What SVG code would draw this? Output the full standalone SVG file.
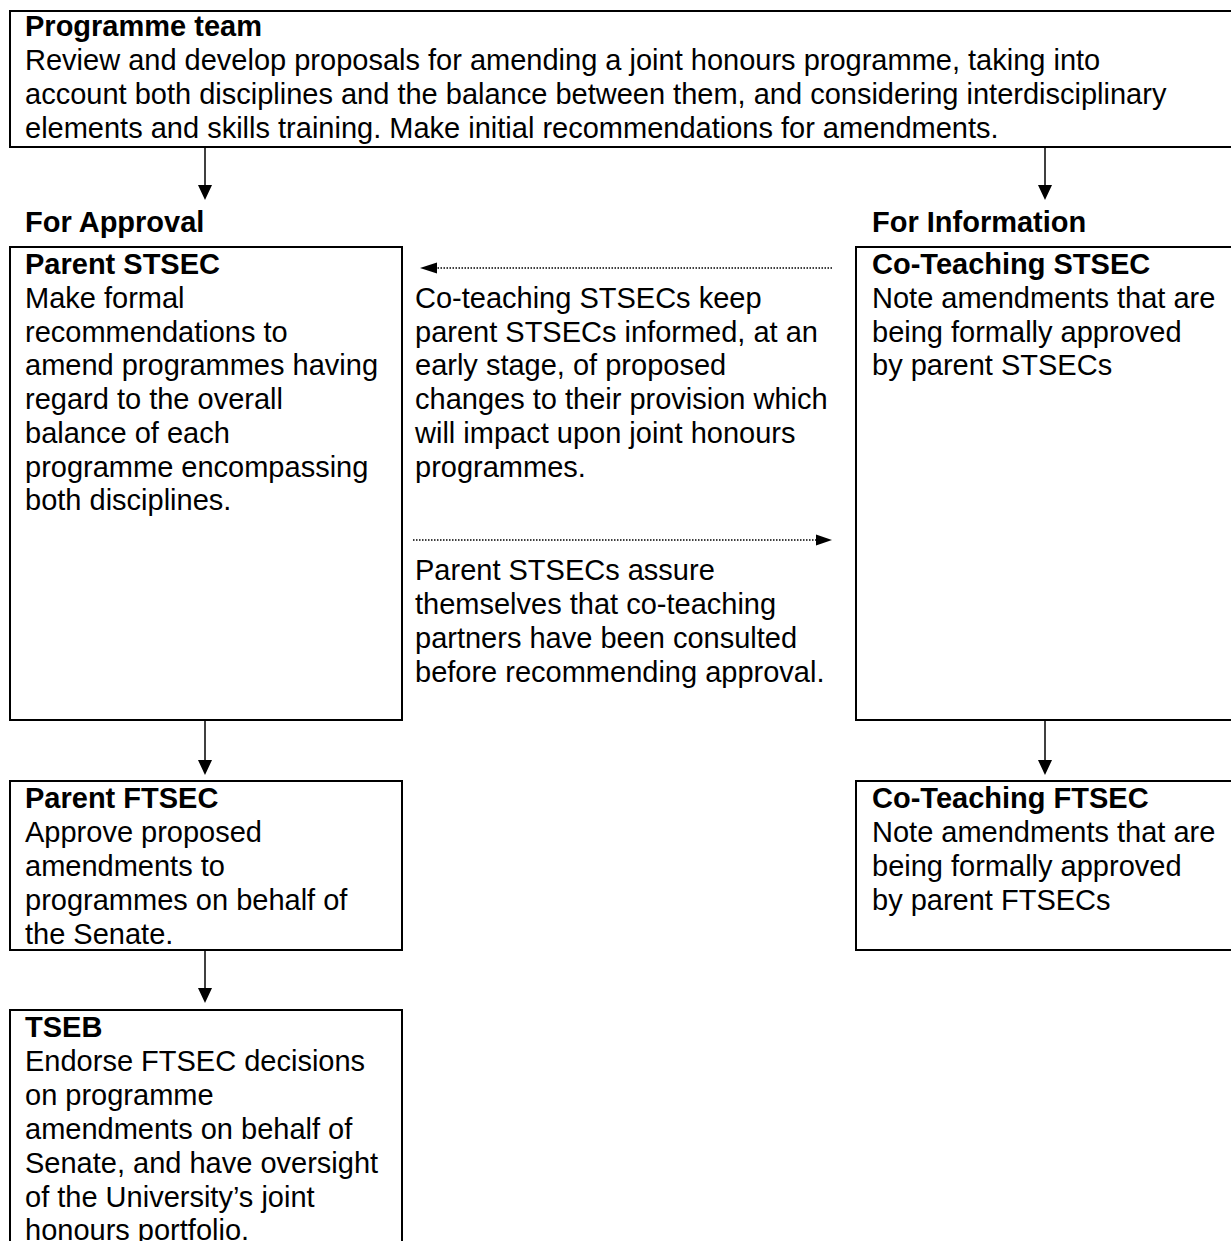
<svg xmlns="http://www.w3.org/2000/svg" width="1231" height="1241" viewBox="0 0 1231 1241">
<style>
text{font-family:"Liberation Sans",Arial,sans-serif;font-size:29px;fill:#000}
.b{font-weight:bold}
.box{fill:#fff;stroke:#000;stroke-width:2}
.ln{stroke:#000;stroke-width:1.5;fill:none}
.dot{stroke:#000;stroke-width:1.3;stroke-dasharray:1.5 1.5;fill:none}
.head{fill:#000}
</style>
<rect width="1231" height="1241" fill="#fff"/>
<g id="programme-team">
<rect class="box" x="10" y="11" width="1240" height="136"/>
<text x="25" y="36" class="b">Programme team</text>
<text x="25" y="70">Review and develop proposals for amending a joint honours programme, taking into</text>
<text x="25" y="104">account both disciplines and the balance between them, and considering interdisciplinary</text>
<text x="25" y="138">elements and skills training. Make initial recommendations for amendments.</text>
</g>
<g id="label-approval"><text x="25" y="232" class="b">For Approval</text></g>
<g id="label-information"><text x="872" y="232" class="b">For Information</text></g>
<g id="parent-stsec">
<rect class="box" x="10" y="247" width="392" height="473"/>
<text x="25" y="274" class="b">Parent STSEC</text>
<text x="25" y="308">Make formal</text>
<text x="25" y="342">recommendations to</text>
<text x="25" y="375">amend programmes having</text>
<text x="25" y="409">regard to the overall</text>
<text x="25" y="443">balance of each</text>
<text x="25" y="477">programme encompassing</text>
<text x="25" y="510">both disciplines.</text>
</g>
<g id="co-teaching-stsec">
<rect class="box" x="856" y="247" width="400" height="473"/>
<text x="872" y="274" class="b">Co-Teaching STSEC</text>
<text x="872" y="308">Note amendments that are</text>
<text x="872" y="342">being formally approved</text>
<text x="872" y="375">by parent STSECs</text>
</g>
<g id="middle-notes">
<text x="415" y="308">Co-teaching STSECs keep</text>
<text x="415" y="342">parent STSECs informed, at an</text>
<text x="415" y="375">early stage, of proposed</text>
<text x="415" y="409">changes to their provision which</text>
<text x="415" y="443">will impact upon joint honours</text>
<text x="415" y="477">programmes.</text>
<text x="415" y="580">Parent STSECs assure</text>
<text x="415" y="614">themselves that co-teaching</text>
<text x="415" y="648">partners have been consulted</text>
<text x="415" y="682">before recommending approval.</text>
</g>
<g id="parent-ftsec">
<rect class="box" x="10" y="781" width="392" height="169"/>
<text x="25" y="808" class="b">Parent FTSEC</text>
<text x="25" y="842">Approve proposed</text>
<text x="25" y="876">amendments to</text>
<text x="25" y="910">programmes on behalf of</text>
<text x="25" y="944">the Senate.</text>
</g>
<g id="co-teaching-ftsec">
<rect class="box" x="856" y="781" width="400" height="169"/>
<text x="872" y="808" class="b">Co-Teaching FTSEC</text>
<text x="872" y="842">Note amendments that are</text>
<text x="872" y="876">being formally approved</text>
<text x="872" y="910">by parent FTSECs</text>
</g>
<g id="tseb">
<rect class="box" x="10" y="1010" width="392" height="260"/>
<text x="25" y="1037" class="b">TSEB</text>
<text x="25" y="1071">Endorse FTSEC decisions</text>
<text x="25" y="1105">on programme</text>
<text x="25" y="1139">amendments on behalf of</text>
<text x="25" y="1173">Senate, and have oversight</text>
<text x="25" y="1207">of the University’s joint</text>
<text x="25" y="1240">honours portfolio.</text>
</g>
<g id="connectors">
<line class="ln" x1="205" y1="147" x2="205" y2="186"/>
<polygon class="head" points="198,185 212,185 205,200"/>
<line class="ln" x1="1045" y1="147" x2="1045" y2="186"/>
<polygon class="head" points="1038,185 1052,185 1045,200"/>
<line class="ln" x1="205" y1="720" x2="205" y2="761"/>
<polygon class="head" points="198,760 212,760 205,775"/>
<line class="ln" x1="1045" y1="720" x2="1045" y2="761"/>
<polygon class="head" points="1038,760 1052,760 1045,775"/>
<line class="ln" x1="205" y1="950" x2="205" y2="989"/>
<polygon class="head" points="198,988 212,988 205,1003"/>
<line class="dot" x1="832" y1="268" x2="436" y2="268"/>
<polygon class="head" points="420,268 437,262.5 437,273.5"/>
<line class="dot" x1="413" y1="540" x2="817" y2="540"/>
<polygon class="head" points="832,540 816,534.5 816,545.5"/>
</g>
</svg>
